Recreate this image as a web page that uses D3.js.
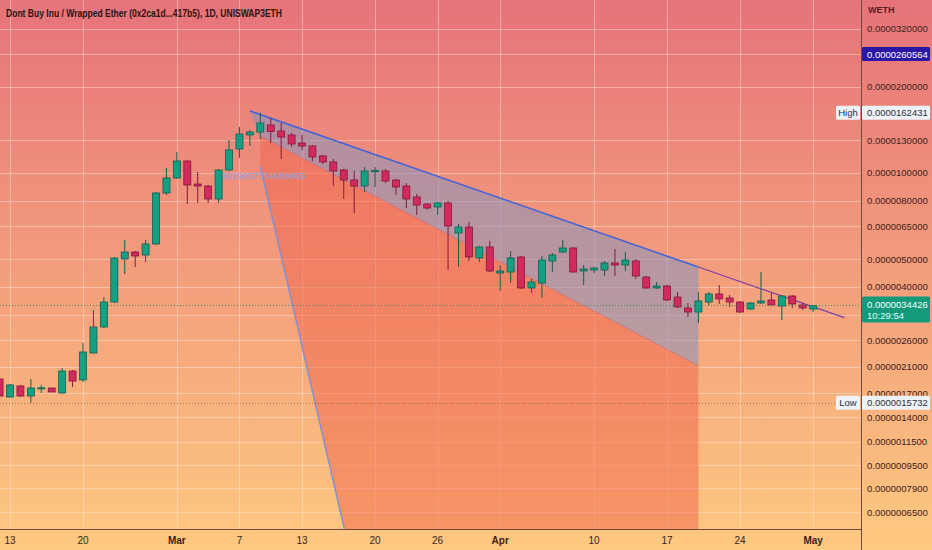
<!DOCTYPE html>
<html>
<head>
<meta charset="utf-8">
<script src="https://cdn.jsdelivr.net/npm/d3@7"></script>
<style>
  body { margin: 0; overflow: hidden; }
  text { font-family: "Liberation Sans", Arial, sans-serif; }
</style>
</head>
<body>
<svg width="932" height="550"></svg>
<script>
// daily candles, WETH per token
var dates = [
  '2023-02-12', '2023-02-13', '2023-02-14', '2023-02-15', '2023-02-16', '2023-02-17', '2023-02-18',
  '2023-02-19', '2023-02-20', '2023-02-21', '2023-02-22', '2023-02-23', '2023-02-24', '2023-02-25',
  '2023-02-26', '2023-02-27', '2023-02-28', '2023-03-01', '2023-03-02', '2023-03-03', '2023-03-04',
  '2023-03-05', '2023-03-06', '2023-03-07', '2023-03-08', '2023-03-09', '2023-03-10', '2023-03-11',
  '2023-03-12', '2023-03-13', '2023-03-14', '2023-03-15', '2023-03-16', '2023-03-17', '2023-03-18',
  '2023-03-19', '2023-03-20', '2023-03-21', '2023-03-22', '2023-03-23', '2023-03-24', '2023-03-25',
  '2023-03-26', '2023-03-27', '2023-03-28', '2023-03-29', '2023-03-30', '2023-03-31', '2023-04-01',
  '2023-04-02', '2023-04-03', '2023-04-04', '2023-04-05', '2023-04-06', '2023-04-07', '2023-04-08',
  '2023-04-09', '2023-04-10', '2023-04-11', '2023-04-12', '2023-04-13', '2023-04-14', '2023-04-15',
  '2023-04-16', '2023-04-17', '2023-04-18', '2023-04-19', '2023-04-20', '2023-04-21', '2023-04-22',
  '2023-04-23', '2023-04-24', '2023-04-25', '2023-04-26', '2023-04-27', '2023-04-28', '2023-04-29',
  '2023-04-30', '2023-05-01'
];
var open = [
  1.904e-6, 1.647e-6, 1.800e-6, 1.660e-6, 1.770e-6, 1.771e-6, 1.701e-6,
  2.030e-6, 1.889e-6, 2.347e-6, 2.894e-6, 3.539e-6, 5.003e-6, 5.294e-6,
  5.167e-6, 5.647e-6, 8.513e-6, 9.605e-6, 11.015e-6, 9.150e-6, 9.006e-6,
  8.111e-6, 10.244e-6, 12.13e-6, 13.58e-6, 13.91e-6, 14.72e-6, 14.02e-6,
  13.58e-6, 12.73e-6, 12.43e-6, 11.47e-6, 10.93e-6, 10.244e-6, 9.452e-6,
  9.006e-6, 10.12e-6, 10.162e-6, 9.452e-6, 9.006e-6, 8.243e-6, 7.791e-6,
  7.605e-6, 7.854e-6, 6.169e-6, 6.474e-6, 5.044e-6, 5.511e-6, 4.470e-6,
  4.506e-6, 5.085e-6, 3.962e-6, 4.125e-6, 4.924e-6, 5.294e-6, 5.467e-6,
  4.543e-6, 4.579e-6, 4.579e-6, 4.845e-6, 4.768e-6, 4.924e-6, 4.328e-6,
  3.962e-6, 4.026e-6, 3.684e-6, 3.372e-6, 3.265e-6, 3.539e-6, 3.775e-6,
  3.655e-6, 3.539e-6, 3.345e-6, 3.511e-6, 3.597e-6, 3.427e-6, 3.714e-6,
  3.455e-6, 3.345e-6
];
var high = [
  1.919e-6, 1.829e-6, 1.815e-6, 1.904e-6, 1.815e-6, 1.775e-6, 2.080e-6,
  2.047e-6, 2.544e-6, 3.318e-6, 3.684e-6, 5.085e-6, 5.831e-6, 5.340e-6,
  5.831e-6, 8.580e-6, 10.41e-6, 11.84e-6, 11.10e-6, 10.08e-6, 9.080e-6,
  10.33e-6, 13.04e-6, 14.49e-6, 14.14e-6, 16.2431e-6, 15.57e-6, 14.96e-6,
  13.80e-6, 13.58e-6, 12.53e-6, 11.56e-6, 11.19e-6, 10.33e-6, 10.162e-6,
  10.495e-6, 10.495e-6, 10.33e-6, 9.53e-6, 9.226e-6, 8.445e-6, 7.854e-6,
  7.92e-6, 7.981e-6, 6.632e-6, 6.74e-6, 5.556e-6, 5.784e-6, 4.768e-6,
  5.336e-6, 5.126e-6, 4.260e-6, 5.126e-6, 5.251e-6, 5.831e-6, 5.511e-6,
  4.768e-6, 4.691e-6, 4.924e-6, 5.423e-6, 5.294e-6, 5.003e-6, 4.363e-6,
  4.158e-6, 4.059e-6, 3.836e-6, 3.511e-6, 3.836e-6, 3.836e-6, 4.059e-6,
  3.744e-6, 3.568e-6, 3.539e-6, 4.506e-6, 3.805e-6, 3.744e-6, 3.744e-6,
  3.511e-6, 3.450e-6
];
var low = [
  1.634e-6, 1.640e-6, 1.647e-6, 1.5732e-6, 1.701e-6, 1.713e-6, 1.687e-6,
  1.786e-6, 1.858e-6, 2.340e-6, 2.871e-6, 3.511e-6, 4.434e-6, 4.691e-6,
  4.884e-6, 5.600e-6, 8.376e-6, 9.530e-6, 7.791e-6, 7.854e-6, 7.854e-6,
  7.854e-6, 10.16e-6, 11.29e-6, 12.43e-6, 13.15e-6, 12.73e-6, 11.19e-6,
  12.33e-6, 12.04e-6, 11.015e-6, 10.75e-6, 9.006e-6, 8.111e-6, 7.247e-6,
  8.58e-6, 8.934e-6, 9.226e-6, 8.376e-6, 7.544e-6, 7.131e-6, 7.424e-6,
  7.131e-6, 4.579e-6, 4.691e-6, 4.924e-6, 4.884e-6, 4.506e-6, 3.867e-6,
  4.125e-6, 3.930e-6, 3.805e-6, 3.655e-6, 4.506e-6, 5.251e-6, 4.470e-6,
  4.059e-6, 4.470e-6, 4.363e-6, 4.363e-6, 4.543e-6, 4.260e-6, 3.930e-6,
  3.930e-6, 3.568e-6, 3.373e-6, 3.136e-6, 2.989e-6, 3.455e-6, 3.483e-6,
  3.400e-6, 3.239e-6, 3.318e-6, 3.483e-6, 3.427e-6, 3.062e-6, 3.373e-6,
  3.318e-6, 3.265e-6
];
var close = [
  1.660e-6, 1.815e-6, 1.660e-6, 1.771e-6, 1.774e-6, 1.715e-6, 2.030e-6,
  1.873e-6, 2.366e-6, 2.894e-6, 3.539e-6, 5.044e-6, 5.294e-6, 5.126e-6,
  5.647e-6, 8.513e-6, 9.605e-6, 11.015e-6, 9.079e-6, 9.006e-6, 8.111e-6,
  10.244e-6, 12.04e-6, 13.69e-6, 13.91e-6, 14.96e-6, 13.97e-6, 13.36e-6,
  12.63e-6, 12.43e-6, 11.38e-6, 10.93e-6, 10.162e-6, 9.452e-6, 9.006e-6,
  10.162e-6, 10.20e-6, 9.375e-6, 8.934e-6, 8.111e-6, 7.728e-6, 7.544e-6,
  7.854e-6, 6.526e-6, 6.474e-6, 5.085e-6, 5.511e-6, 4.543e-6, 4.543e-6,
  5.044e-6, 3.962e-6, 4.158e-6, 4.963e-6, 5.167e-6, 5.467e-6, 4.506e-6,
  4.616e-6, 4.653e-6, 4.845e-6, 4.768e-6, 4.963e-6, 4.363e-6, 3.962e-6,
  4.026e-6, 3.597e-6, 3.400e-6, 3.265e-6, 3.568e-6, 3.775e-6, 3.626e-6,
  3.539e-6, 3.265e-6, 3.511e-6, 3.568e-6, 3.455e-6, 3.714e-6, 3.483e-6,
  3.373e-6, 3.4426e-6
];

// axis ticks (0.000026 and 0.0000032 sit under the price badges: grid only)
var priceTicks = [0.000032, 0.00002, 0.000013, 0.00001, 0.000008, 0.0000065, 0.000005,
  0.000004, 0.0000026, 0.0000021, 0.0000017, 0.0000014, 0.00000115, 0.00000095,
  0.00000079, 0.00000065];
var hiddenTicks = [0.000026, 0.0000032];
var dateTicks = ['2023-02-13', '2023-02-20', '2023-03-01', '2023-03-07', '2023-03-13', '2023-03-20',
  '2023-03-26', '2023-04-01', '2023-04-10', '2023-04-17', '2023-04-24', '2023-05-01'];
var dateTickLabels = ['13', '20', 'Mar', '7', '13', '20', '26', 'Apr', '10', '17', '24', 'May'];

// marked prices
var highPrice = 0.0000162431;
var lowPrice = 0.0000015732;
var lastPrice = 0.0000034426;
var markedPrice = 0.0000260564;
var countdown = '10:29:54';

// drawing tools (date, price)
var trendLine = [['2023-03-08', 16.48e-6], ['2023-04-20', 4.69e-6], ['2023-05-04', 3.12e-6]];
var lowerLine = [['2023-03-09', 13.47e-6], ['2023-04-20', 2.119e-6]];
var steepLine = [['2023-03-09', 10.58e-6], ['2023-03-18', 0.404e-6]];
var fanLabel = '3029057334688865';

var title = 'Dont Buy Inu / Wrapped Ether (0x2ca1d...417b5), 1D, UNISWAP3ETH';

var parse = d3.utcParse('%Y-%m-%d');
var DAY = 864e5;
var plotW = 861, plotH = 529, dayPx = 10.43;

var t0 = parse(dateTicks[0]).getTime();
var x = d3.scaleUtc()
  .domain([new Date(t0 - 10 / dayPx * DAY), new Date(t0 + (plotW - 10) / dayPx * DAY)])
  .range([0, plotW]);
var y = d3.scaleLog()
  .domain([5.69e-7, 4.0266e-5])
  .range([plotH, 0]);

var svg = d3.select('svg');
var defs = svg.append('defs');

var grad = defs.append('linearGradient')
  .attr('id', 'bg')
  .attr('x1', 0).attr('y1', 0).attr('x2', 0).attr('y2', 1);
grad.append('stop').attr('offset', '0%').attr('stop-color', '#e6737a');
grad.append('stop').attr('offset', '50%').attr('stop-color', '#f39e7c');
grad.append('stop').attr('offset', '100%').attr('stop-color', '#fec981');

defs.append('clipPath').attr('id', 'plot')
  .append('rect').attr('width', plotW).attr('height', plotH);

svg.append('rect')
  .attr('width', 932).attr('height', 550)
  .attr('fill', 'url(#bg)');

// grid
var grid = svg.append('g').attr('clip-path', 'url(#plot)');
grid.selectAll('line.h')
  .data(priceTicks.concat(hiddenTicks))
  .enter()
  .append('line')
  .attr('x1', 0).attr('x2', plotW)
  .attr('y1', function (d) { return Math.round(y(d)) + 0.5; })
  .attr('y2', function (d) { return Math.round(y(d)) + 0.5; })
  .attr('stroke', 'rgba(255,236,226,0.42)');
grid.selectAll('line.v')
  .data(dateTicks)
  .enter()
  .append('line')
  .attr('y1', 0).attr('y2', plotH)
  .attr('x1', function (d) { return Math.round(x(parse(d))) + 0.5; })
  .attr('x2', function (d) { return Math.round(x(parse(d))) + 0.5; })
  .attr('stroke', 'rgba(255,236,226,0.42)');

// drawing tools
function pt(p) { return [x(parse(p[0])), y(p[1])]; }
var tools = svg.append('g').attr('clip-path', 'url(#plot)');
var bottomPrice = steepLine[1][1];

tools.append('path')
  .attr('d', d3.line()([
    pt(lowerLine[0]), pt(lowerLine[1]),
    pt([lowerLine[1][0], bottomPrice]), pt(steepLine[1]), pt(steepLine[0])
  ]) + 'Z')
  .attr('fill', 'rgba(240,100,76,0.5)');

tools.append('path')
  .attr('d', d3.line()([
    pt(trendLine[0]), pt(trendLine[1]), pt(lowerLine[1]), pt(lowerLine[0])
  ]) + 'Z')
  .attr('fill', 'rgba(140,146,188,0.58)');

tools.append('path')
  .attr('d', d3.line()(lowerLine.map(pt)))
  .attr('fill', 'none')
  .attr('stroke', 'rgba(200,90,110,0.6)')
  .attr('stroke-width', 0.8);

tools.append('path')
  .attr('d', d3.line()(steepLine.map(pt)))
  .attr('fill', 'none')
  .attr('stroke', '#7d8fd6')
  .attr('stroke-width', 1.4);

tools.append('text')
  .attr('x', x(parse(steepLine[0][0])) + 3)
  .attr('y', y(steepLine[0][1]) + 13)
  .attr('text-anchor', 'middle')
  .attr('font-size', 9.5)
  .attr('fill', '#8ba4e4')
  .text(fanLabel);

// candles
var candles = dates.map(function (d, i) {
  return { t: parse(d), o: open[i], h: high[i], l: low[i], c: close[i] };
});
var bodyW = 7;
var cg = svg.append('g').attr('clip-path', 'url(#plot)');
cg.selectAll('line.wick')
  .data(candles)
  .enter()
  .append('line')
  .attr('x1', function (d) { return x(d.t); })
  .attr('x2', function (d) { return x(d.t); })
  .attr('y1', function (d) { return y(d.h); })
  .attr('y2', function (d) { return y(d.l); })
  .attr('stroke', function (d) { return d.c >= d.o ? '#11604f' : '#86183c'; })
  .attr('stroke-width', 1);
cg.selectAll('rect.body')
  .data(candles)
  .enter()
  .append('rect')
  .attr('x', function (d) { return x(d.t) - bodyW / 2; })
  .attr('y', function (d) { return y(Math.max(d.o, d.c)); })
  .attr('width', bodyW)
  .attr('height', function (d) { return Math.max(1.2, Math.abs(y(d.o) - y(d.c))); })
  .attr('fill', function (d) { return d.c >= d.o ? '#15a083' : '#d22a5c'; })
  .attr('stroke', function (d) { return d.c >= d.o ? '#11604f' : '#86183c'; })
  .attr('stroke-width', 0.8);

// trend line over the candles
tools.append('path')
  .attr('d', d3.line()([pt(trendLine[0]), pt(trendLine[1])]))
  .attr('stroke', '#3f62d8')
  .attr('stroke-width', 1.5)
  .attr('fill', 'none');
tools.append('path')
  .attr('d', d3.line()([pt(trendLine[1]), pt(trendLine[2])]))
  .attr('stroke', '#7b3fa6')
  .attr('stroke-width', 1.2)
  .attr('fill', 'none');

// price lines
function dotted(price, color) {
  svg.append('line')
    .attr('x1', 0).attr('x2', plotW)
    .attr('y1', Math.round(y(price)) + 0.5)
    .attr('y2', Math.round(y(price)) + 0.5)
    .attr('stroke', color)
    .attr('stroke-dasharray', '1,2');
}
dotted(lowPrice, 'rgba(120,90,80,0.7)');
dotted(lastPrice, 'rgba(40,140,100,0.9)');

// axes borders
svg.append('line')
  .attr('x1', plotW + 0.5).attr('x2', plotW + 0.5)
  .attr('y1', 0).attr('y2', 550)
  .attr('stroke', '#6e4a40');
svg.append('line')
  .attr('x1', 0).attr('x2', plotW)
  .attr('y1', plotH + 0.5).attr('y2', plotH + 0.5)
  .attr('stroke', '#6e4a40');

// price axis labels
var fmt = d3.format('.10f');
svg.selectAll('text.price')
  .data(priceTicks)
  .enter()
  .append('text')
  .attr('x', 867)
  .attr('y', function (d) { return y(d) + 3.5; })
  .attr('font-size', 9.5)
  .attr('fill', '#3b211c')
  .text(function (d) { return fmt(d); });

svg.append('text')
  .attr('x', 868).attr('y', 13)
  .attr('font-size', 9)
  .attr('font-weight', 'bold')
  .attr('fill', '#5a1c1c')
  .text('WETH');

// date axis labels
svg.selectAll('text.date')
  .data(dateTicks)
  .enter()
  .append('text')
  .attr('x', function (d) { return x(parse(d)); })
  .attr('y', 544)
  .attr('text-anchor', 'middle')
  .attr('font-size', 10)
  .attr('font-weight', function (d, i) { return isNaN(+dateTickLabels[i]) ? 'bold' : 'normal'; })
  .attr('fill', '#3b211c')
  .text(function (d, i) { return dateTickLabels[i]; });

// price badges
function badge(price, bg, fg) {
  var cy = y(price);
  svg.append('rect')
    .attr('x', 862).attr('y', cy - 7)
    .attr('width', 68).attr('height', 14)
    .attr('rx', 1.5)
    .attr('fill', bg);
  svg.append('text')
    .attr('x', 867).attr('y', cy + 3.5)
    .attr('font-size', 9.5)
    .attr('fill', fg)
    .text(fmt(price));
}
function sideTag(price, label) {
  var cy = y(price);
  svg.append('rect')
    .attr('x', 836).attr('y', cy - 7)
    .attr('width', 24).attr('height', 14)
    .attr('rx', 1.5)
    .attr('fill', '#eef3fa');
  svg.append('text')
    .attr('x', 848).attr('y', cy + 3.5)
    .attr('text-anchor', 'middle')
    .attr('font-size', 9.5)
    .attr('fill', '#2d2d36')
    .text(label);
  badge(price, '#eef3fa', '#2d2d36');
}
badge(markedPrice, '#2c16a6', '#ffffff');
sideTag(highPrice, 'High');
sideTag(lowPrice, 'Low');

var ly = y(lastPrice);
svg.append('rect')
  .attr('x', 862).attr('y', ly - 9)
  .attr('width', 68).attr('height', 26)
  .attr('rx', 1.5)
  .attr('fill', '#139a7b');
svg.append('text')
  .attr('x', 867).attr('y', ly + 2.5)
  .attr('font-size', 9.5)
  .attr('fill', '#ffffff')
  .text(fmt(lastPrice));
svg.append('text')
  .attr('x', 867).attr('y', ly + 14)
  .attr('font-size', 9.5)
  .attr('fill', '#e6fff6')
  .text(countdown);

// title
svg.append('text')
  .attr('x', 6).attr('y', 17)
  .attr('font-size', 11)
  .attr('font-weight', 'bold')
  .attr('textLength', 276)
  .attr('lengthAdjust', 'spacingAndGlyphs')
  .attr('fill', '#2e1212')
  .text(title);
</script>
</body>
</html>
